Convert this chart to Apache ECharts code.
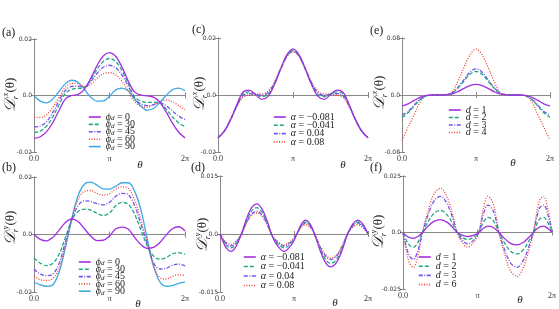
<!DOCTYPE html>
<html><head><meta charset="utf-8">
<script src="https://cdn.jsdelivr.net/npm/echarts@6/dist/echarts.min.js"></script>
<style>html,body{margin:0;padding:0;background:#fff}#c{width:559px;height:309px}</style>
</head><body><div id="c"></div>
<script>
// ---- theta samples (degrees) ----
const thetaStd = [0,15,30,45,60,75,90,105,120,135,150,165,180,195,210,225,240,255,270,285,300,315,330,345,360];
const thetaD = [0,8,16,26,38,52,65,78,90,103,115,125,137,156,175,187,197,208,219,230,245,260,270,285,300,310,318,326,334,347,360];
const thetaF = [0,8,16,25,35,47,60,75,91,107,120,131,143,156,170,183,194,205,218,232,245,260,276,292,305,315,323,331,340,350,360];
const xTickLabels = ['0.0','π','2π'];

// ---- panel (a): D_r^x, phi_d ----
const a_phi0  = [-0.0152,-0.0146,-0.0128,-0.0095,-0.0052,-0.0012,0.0000,0.0004,0.0022,0.0060,0.0105,0.0140,0.0152,0.0138,0.0100,0.0050,0.0012,0.0001,-0.0001,-0.0006,-0.0024,-0.0058,-0.0098,-0.0130,-0.0150];
const a_phi30 = [-0.0131,-0.0126,-0.0108,-0.0075,-0.0032,0.0007,0.0022,0.0025,0.0028,0.0055,0.0092,0.0120,0.0131,0.0120,0.0088,0.0042,-0.0005,-0.0020,-0.0024,-0.0024,-0.0026,-0.0048,-0.0075,-0.0097,-0.0110];
const a_phi45 = [-0.0111,-0.0108,-0.0092,-0.0060,-0.0018,0.0018,0.0032,0.0033,0.0030,0.0048,0.0078,0.0100,0.0107,0.0098,0.0072,0.0032,-0.0012,-0.0030,-0.0036,-0.0032,-0.0026,-0.0036,-0.0055,-0.0073,-0.0085];
const a_phi60 = [-0.0076,-0.0078,-0.0068,-0.0042,-0.0005,0.0030,0.0043,0.0042,0.0031,0.0038,0.0060,0.0077,0.0081,0.0073,0.0050,0.0015,-0.0022,-0.0038,-0.0041,-0.0033,-0.0022,-0.0016,-0.0022,-0.0036,-0.0050];
const a_phi90 = [0.0000,-0.0020,-0.0026,-0.0012,0.0015,0.0042,0.0054,0.0047,0.0022,-0.0005,-0.0020,-0.0019,-0.0003,0.0020,0.0026,0.0016,-0.0012,-0.0038,-0.0052,-0.0046,-0.0025,0.0000,0.0021,0.0026,0.0017];

// ---- panel (b): D_r^y, phi_d ----
const b_phi0  = [0.0000,-0.0017,-0.0022,-0.0010,0.0015,0.0042,0.0054,0.0045,0.0020,-0.0005,-0.0021,-0.0020,-0.0005,0.0020,0.0026,0.0018,-0.0010,-0.0035,-0.0048,-0.0045,-0.0028,-0.0002,0.0020,0.0027,0.0012];
const b_phi30 = [-0.0082,-0.0100,-0.0108,-0.0100,-0.0068,-0.0010,0.0050,0.0080,0.0088,0.0085,0.0074,0.0066,0.0075,0.0100,0.0112,0.0105,0.0070,0.0015,-0.0040,-0.0075,-0.0086,-0.0080,-0.0067,-0.0063,-0.0069];
const b_phi45 = [-0.0120,-0.0138,-0.0143,-0.0138,-0.0100,-0.0025,0.0053,0.0100,0.0117,0.0115,0.0107,0.0103,0.0112,0.0133,0.0143,0.0138,0.0100,0.0035,-0.0032,-0.0098,-0.0120,-0.0118,-0.0107,-0.0103,-0.0109];
const b_phi60 = [-0.0145,-0.0157,-0.0160,-0.0153,-0.0118,-0.0035,0.0054,0.0122,0.0150,0.0153,0.0143,0.0137,0.0142,0.0158,0.0166,0.0160,0.0120,0.0050,-0.0028,-0.0110,-0.0150,-0.0155,-0.0145,-0.0140,-0.0143];
const b_phi90 = [-0.0166,-0.0175,-0.0180,-0.0175,-0.0130,-0.0045,0.0054,0.0135,0.0175,0.0182,0.0172,0.0159,0.0158,0.0168,0.0180,0.0180,0.0150,0.0085,-0.0015,-0.0110,-0.0165,-0.0180,-0.0178,-0.0170,-0.0165];

// ---- panel (c): D_r^x, alpha ----
const c_m081 = [-0.0150,-0.0128,-0.0088,-0.0035,0.0010,0.0017,0.0002,-0.0015,-0.0005,0.0035,0.0090,0.0140,0.0162,0.0140,0.0090,0.0035,-0.0005,-0.0015,0.0002,0.0017,0.0010,-0.0035,-0.0088,-0.0128,-0.0150];
const c_m041 = [-0.0150,-0.0127,-0.0087,-0.0037,0.0004,0.0011,0.0003,-0.0006,0.0002,0.0038,0.0090,0.0137,0.0157,0.0137,0.0090,0.0038,0.0002,-0.0006,0.0003,0.0011,0.0004,-0.0037,-0.0087,-0.0127,-0.0150];
const c_p04  = [-0.0150,-0.0126,-0.0086,-0.0039,-0.0002,0.0005,0.0003,-0.0001,0.0008,0.0041,0.0090,0.0135,0.0154,0.0135,0.0090,0.0041,0.0008,-0.0001,0.0003,0.0005,-0.0002,-0.0039,-0.0086,-0.0126,-0.0150];
const c_p08  = [-0.0150,-0.0125,-0.0085,-0.0041,-0.0008,0.0000,0.0003,0.0004,0.0013,0.0044,0.0090,0.0133,0.0151,0.0133,0.0090,0.0044,0.0013,0.0004,0.0003,0.0000,-0.0008,-0.0041,-0.0085,-0.0125,-0.0150];

// ---- panel (d): D_r^y, alpha ----
const d_m081 = [0,-0.0021,-0.0037,-0.0045,-0.0034,0,0.0041,0.0070,0.0078,0.0063,0.0033,0,-0.0026,-0.0045,-0.0026,0,0.0024,0.0036,0.0026,0,-0.0047,-0.0079,-0.0085,-0.0071,-0.0033,0,0.0017,0.0030,0.0036,0.0026,0];
const d_m041 = [0,-0.0017,-0.0030,-0.0036,-0.0027,0,0.0036,0.0061,0.0068,0.0055,0.0028,0,-0.0021,-0.0036,-0.0021,0,0.0021,0.0031,0.0022,0,-0.0042,-0.0070,-0.0076,-0.0063,-0.0029,0,0.0015,0.0026,0.0031,0.0023,0];
const d_p04  = [0,-0.0014,-0.0026,-0.0031,-0.0023,0,0.0031,0.0053,0.0059,0.0048,0.0025,0,-0.0018,-0.0031,-0.0018,0,0.0019,0.0028,0.0020,0,-0.0037,-0.0061,-0.0066,-0.0055,-0.0025,0,0.0013,0.0024,0.0028,0.0020,0];
const d_p08  = [0,-0.0013,-0.0022,-0.0027,-0.0020,0,0.0029,0.0050,0.0055,0.0045,0.0023,0,-0.0016,-0.0028,-0.0016,0,0.0016,0.0024,0.0017,0,-0.0034,-0.0057,-0.0062,-0.0052,-0.0024,0,0.0012,0.0020,0.0024,0.0017,0];

// ---- panel (e): D_r^x, d ----
const e_d1 = [-0.0155,-0.0125,-0.0075,-0.0030,-0.0005,0.0000,0.0000,0.0003,0.0012,0.0045,0.0090,0.0132,0.0150,0.0132,0.0090,0.0045,0.0012,0.0003,0.0000,0.0000,-0.0005,-0.0030,-0.0075,-0.0125,-0.0155];
const e_d2 = [-0.0315,-0.0250,-0.0150,-0.0060,-0.0010,0.0000,0.0000,0.0004,0.0020,0.0090,0.0190,0.0290,0.0330,0.0290,0.0190,0.0090,0.0020,0.0004,0.0000,0.0000,-0.0010,-0.0060,-0.0150,-0.0250,-0.0315];
const e_d3 = [-0.0280,-0.0230,-0.0140,-0.0055,-0.0010,0.0000,0.0000,0.0004,0.0022,0.0100,0.0210,0.0320,0.0367,0.0320,0.0210,0.0100,0.0022,0.0004,0.0000,0.0000,-0.0010,-0.0055,-0.0140,-0.0230,-0.0280];
const e_d4 = [-0.0635,-0.0450,-0.0270,-0.0090,-0.0010,0.0000,0.0000,0.0005,0.0030,0.0180,0.0380,0.0560,0.0645,0.0560,0.0380,0.0180,0.0030,0.0005,0.0000,0.0000,-0.0010,-0.0090,-0.0270,-0.0450,-0.0635];

// ---- panel (f): D_r^y, d ----
const f_d1 = [-0.0001,-0.0014,-0.0023,-0.0026,-0.0019,0,0.0027,0.0049,0.0057,0.0045,0.0023,0,-0.0012,-0.0018,-0.0013,0,0.0018,0.0028,0.0022,0,-0.0026,-0.0048,-0.0055,-0.0042,-0.0020,0,0.0015,0.0025,0.0028,0.0018,0.0001];
const f_d2 = [-0.0003,-0.0034,-0.0057,-0.0065,-0.0047,0,0.0046,0.0085,0.0098,0.0077,0.0039,0,-0.0021,-0.0031,-0.0022,0,0.0044,0.0067,0.0053,0,-0.0045,-0.0083,-0.0095,-0.0073,-0.0035,0,0.0036,0.0061,0.0067,0.0044,0.0003];
const f_d3 = [-0.0004,-0.0062,-0.0105,-0.0119,-0.0086,0,0.0075,0.0139,0.0160,0.0125,0.0064,0,-0.0033,-0.0050,-0.0035,0,0.0080,0.0121,0.0096,0,-0.0073,-0.0135,-0.0154,-0.0119,-0.0057,0,0.0065,0.0111,0.0121,0.0079,0.0004];
const f_d6 = [-0.0005,-0.0081,-0.0136,-0.0154,-0.0112,0,0.0092,0.0171,0.0196,0.0154,0.0079,0,-0.0043,-0.0065,-0.0046,0,0.0105,0.0160,0.0127,0,-0.0092,-0.0170,-0.0194,-0.0149,-0.0072,0,0.0086,0.0146,0.0160,0.0104,0.0005];

const COL = {purple:'#a32ee0', green:'#22a882', violet:'#7850f0', red:'#f2402e', blue:'#3ea9e0'};
const STY = {
  purple:{color:COL.purple,type:'solid'},
  green:{color:COL.green,type:[4,2]},
  violet:{color:COL.violet,type:[4,1.5,1,1.5]},
  red:{color:COL.red,type:[1,1.6]},
  blue:{color:COL.blue,type:'solid'}
};
const SERIF = 'Liberation Serif';

const panels = [
 {grid:{left:34,top:39,width:151,height:113}, y:[-0.02,0.02,0.02], theta:thetaStd, sup:'x', tag:'(a)', tagPos:[2,27], yName:[11,95], thPos:[140,165],
  legend:{left:88,top:112,gap:-2.6},
  lines:[['a1','0',a_phi0,'purple'],['a2','30',a_phi30,'green'],['a3','45',a_phi45,'violet'],['a4','60',a_phi60,'red'],['a5','90',a_phi90,'blue']], kind:'phi'},
 {grid:{left:34,top:177,width:151,height:115}, y:[-0.02,0.02,0.02], theta:thetaStd, sup:'y', tag:'(b)', tagPos:[2,162], yName:[11,228], thPos:[138,304],
  legend:{left:78,top:257,gap:-2.7},
  lines:[['b1','0',b_phi0,'purple'],['b2','30',b_phi30,'green'],['b3','45',b_phi45,'violet'],['b4','60',b_phi60,'red'],['b5','90',b_phi90,'blue']], kind:'phi'},
 {grid:{left:218,top:38,width:150,height:114}, y:[-0.02,0.02,0.02], theta:thetaStd, sup:'x', tag:'(c)', tagPos:[192,24], yName:[200,94], thPos:[343,165],
  legend:{left:273,top:112,gap:-1.7},
  lines:[['c1','−0.081',c_m081,'purple'],['c2','−0.041',c_m041,'green'],['c3','0.04',c_p04,'violet'],['c4','0.08',c_p08,'red']], kind:'alpha'},
 {grid:{left:220,top:176,width:148,height:116}, y:[-0.015,0.015,0.015], theta:thetaD, sup:'y', tag:'(d)', tagPos:[191,162], yName:[203,235], thPos:[335,303],
  legend:{left:243,top:252,gap:-0.5},
  lines:[['d1','−0.081',d_m081,'purple'],['d2','−0.041',d_m041,'green'],['d3','0.04',d_p04,'violet'],['d4','0.08',d_p08,'red']], kind:'alpha'},
 {grid:{left:402,top:38,width:148,height:114}, y:[-0.08,0.08,0.08], theta:thetaStd, sup:'x', tag:'(e)', tagPos:[370,25], yName:[380,93], thPos:[513,163],
  legend:{left:448,top:105,gap:-2.5},
  lines:[['e1','1',e_d1,'purple'],['e2','2',e_d2,'green'],['e3','3',e_d3,'violet'],['e4','4',e_d4,'red']], kind:'d'},
 {grid:{left:403,top:176,width:149,height:113}, y:[-0.025,0.025,0.025], theta:thetaF, sup:'y', tag:'(f)', tagPos:[370,162], yName:[379,232], thPos:[520,300],
  legend:{left:418,top:252,gap:-0.8},
  lines:[['f1','1',f_d1,'purple'],['f2','2',f_d2,'green'],['f3','3',f_d3,'violet'],['f4','6',f_d6,'red']], kind:'d'}
];

const nameText = {};
const grids=[], xAxes=[], yAxes=[], series=[], legends=[], graphics=[];
const axisCol = '#888';
panels.forEach((p,i)=>{
  grids.push(Object.assign({containLabel:false}, p.grid));
  const xBase = {gridIndex:i,type:'value',min:0,max:360,interval:180,splitLine:{show:false},
    axisLine:{show:true,lineStyle:{color:axisCol,width:1}},
    axisTick:{show:true,inside:true,length:3,lineStyle:{color:axisCol}}};
  xAxes.push(Object.assign({},xBase,{position:'bottom',
    axisLabel:{fontFamily:SERIF,fontSize:8,color:'#333',margin:3,formatter:v=>xTickLabels[Math.round(v/180)]}}));
  xAxes.push(Object.assign({},xBase,{position:'top',axisLabel:{show:false}}));
  const yBase = {gridIndex:i,type:'value',min:p.y[0],max:p.y[1],interval:p.y[2],splitLine:{show:false},
    axisLine:{show:true,lineStyle:{color:axisCol,width:1}},
    axisTick:{show:true,inside:true,length:3,lineStyle:{color:axisCol}}};
  yAxes.push(Object.assign({},yBase,{position:'left',
    axisLabel:{fontFamily:'DejaVu Sans',fontSize:6,color:'#333',margin:2,
      formatter:v=>Math.abs(v)<1e-9?'0.0':String(+v.toFixed(3))}}));
  yAxes.push(Object.assign({},yBase,{position:'right',axisLabel:{show:false}}));
  const names=[];
  p.lines.forEach(([id,lab,vals,sty])=>{
    let t;
    if(p.kind==='phi') t='{i|ϕ}{s|d}{n| = '+lab+'}';
    else if(p.kind==='alpha') t='{i|α}{n| = '+lab+'}';
    else t='{i|d}{n| = '+lab+'}';
    nameText[id]=t; names.push(id);
    series.push({type:'line',name:id,xAxisIndex:2*i,yAxisIndex:2*i,showSymbol:false,symbol:'none',
      smooth:0.35,lineStyle:{width:1.3,color:STY[sty].color,type:STY[sty].type},itemStyle:{color:STY[sty].color},
      data:p.theta.map((t,k)=>[t,vals[k]]),z:10-names.length});
  });
  legends.push({data:names,orient:'vertical',left:p.legend.left,top:p.legend.top,itemWidth:12,itemHeight:5,itemGap:p.legend.gap,padding:0,
    itemStyle:{opacity:0,borderWidth:0},
    lineStyle:{width:1.6},
    formatter:n=>nameText[n],
    textStyle:{fontFamily:SERIF,fontSize:10,color:'#222',
      rich:{i:{fontFamily:SERIF,fontStyle:'italic',fontSize:10},
            s:{fontFamily:SERIF,fontStyle:'italic',fontSize:7,verticalAlign:'bottom'},
            n:{fontFamily:SERIF,fontSize:10}}}});
  graphics.push({type:'text',left:p.tagPos[0],top:p.tagPos[1],style:{text:p.tag,font:'12px "Liberation Serif"',fill:'#222'}});
  graphics.push({type:'text',x:p.thPos[0],y:p.thPos[1],style:{text:'θ',font:'italic 11px "Liberation Serif"',fill:'#222',align:'center',verticalAlign:'middle'}});
  graphics.push({type:'text',x:p.yName[0],y:p.yName[1],rotation:Math.PI/2,
    style:{text:'{D|𝒟}{b|r}{p|'+p.sup+'}{t|(θ)}',align:'center',verticalAlign:'middle',fill:'#222',
      rich:{D:{font:'italic 16px "DejaVu Serif"',fill:'#222',lineHeight:18},
            b:{font:'italic 8px "Liberation Serif"',fill:'#222',lineHeight:18,verticalAlign:'bottom'},
            p:{font:'italic 8px "Liberation Serif"',fill:'#222',lineHeight:18,verticalAlign:'top'},
            t:{font:'13px "Liberation Serif"',fill:'#222',lineHeight:18}}}});
});

const chart = echarts.init(document.getElementById('c'),null,{renderer:'canvas'});
chart.setOption({animation:false,backgroundColor:'#fff',grid:grids,xAxis:xAxes,yAxis:yAxes,series:series,legend:legends,graphic:graphics});
</script></body></html>
